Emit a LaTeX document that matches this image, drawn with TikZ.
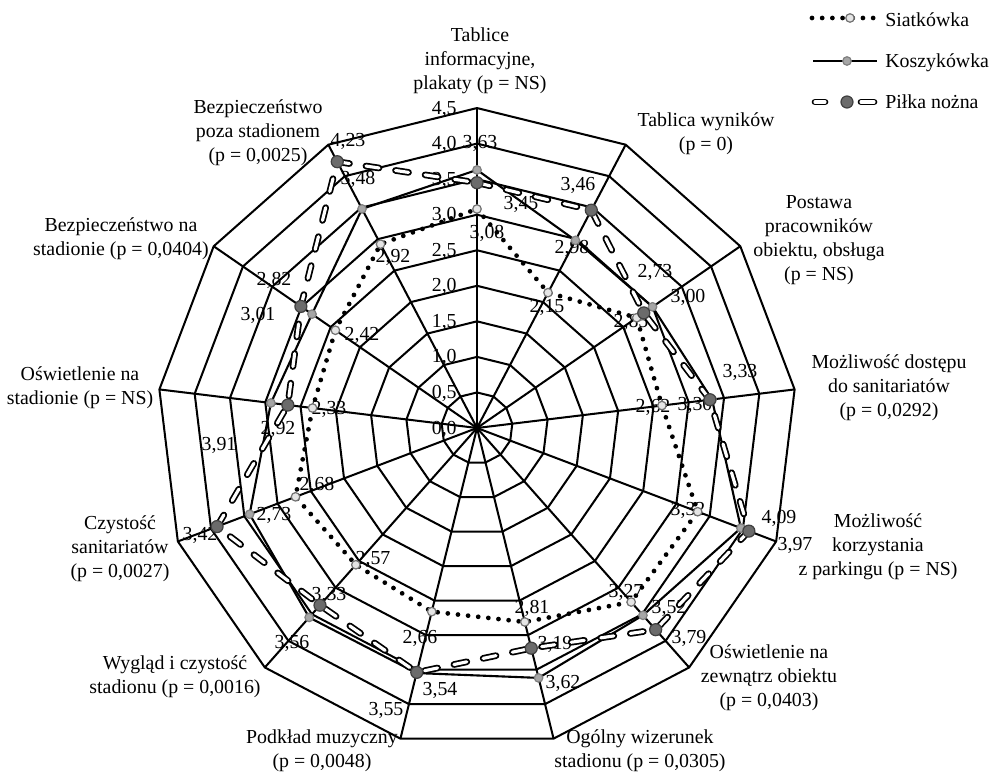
\documentclass[tikz,border=0pt]{standalone}
\usepackage{fontspec}
\setmainfont{Liberation Serif}
\usepackage{xcolor}
\usetikzlibrary{calc,
	positioning}

\tikzset{
	gridline/.style={line width=1.15pt},
	txt/.style={font=\fontsize{11.3}{13.7}\selectfont, inner sep=0pt},
	cat/.style={txt, align=center},
	siat/.style={line width=2.7pt, dash pattern=on 0pt off 5.8pt, line cap=round},
	kosz/.style={line width=1.2pt},
	pilka/.style={line width=1pt, double=white, double distance=1.8pt,
		dash pattern=on 7.5pt off 9.5pt, line cap=round},
	markV/.style={fill=black!10, draw=black!55, line width=0.7pt},
	markK/.style={fill=black!35, draw=black!50, line width=0.7pt},
	markP/.style={fill=black!58, draw=black!75, line width=0.7pt}
}

\begin{document}
\begin{tikzpicture}[x=0.02cm, y=-0.02cm]
            \useasboundingbox (0,0) rectangle (995,773);
            \begin{scope}[shift={(477,428)}]
                \coordinate (c) at (0,0);
                \foreach \i in {1,...,9}
                    \draw[gridline] ({-90}:{\i*35.55}) \foreach \k in {1,...,12} { -- ({\k*360/13-90}:{\i*35.55}) } -- cycle;
                \foreach \k in {0,...,12}
                    \draw[gridline] (c) -- ({\k*360/13-90}:320) coordinate (e\k);
                \foreach \i/\t in {0/{0,0},1/{0,5},2/{1,0},3/{1,5},4/{2,0},5/{2,5},6/{3,0},7/{3,5},8/{4,0},9/{4,5}}
                    \node[txt, anchor=east] (t\i) at (-20, {-\i*35.55+1}) {\t};
                \foreach \k/\v/\b/\f in {0/3.08/3.63/3.45, 1/2.15/2.98/3.46, 2/2.73/3.00/2.85,
                        3/2.62/3.33/3.30, 4/3.32/3.97/4.09, 5/3.27/3.52/3.79, 6/2.81/3.62/3.19,
                        7/2.66/3.55/3.54, 8/2.57/3.56/3.33, 9/2.73/3.42/3.91, 10/2.33/2.92/2.68,
                        11/2.42/2.82/3.01, 12/2.92/3.48/4.23} {
                    \coordinate (V\k) at ({\k*360/13-90}:{\v*71.1});
                    \coordinate (K\k) at ({\k*360/13-90}:{\b*71.1});
                    \coordinate (P\k) at ({\k*360/13-90}:{\f*71.1});
                }
            \end{scope}

            \foreach \n/\x/\y/\t in {a0/480/143/{3,63}, a1/578/185/{3,46}, a2/521/204/{3,45},
                    a3/487/233/{3,08}, a4/572/248/{2,98}, a5/547/307/{2,15}, a6/655/272/{2,73},
                    a7/688/297/{3,00}, a8/631/322/{2,85}, a9/740/372/{3,33}, a10/695/405/{3,30},
                    a11/653/407/{2,62}, a12/779/518/{4,09}, a13/795/545/{3,97}, a14/688/510/{3,32},
                    a15/626/592/{3,27}, a16/669/608/{3,52}, a17/689/638/{3,79}, a18/532/608/{2,81},
                    a19/555/644/{3,19}, a20/563/683/{3,62}, a21/420/638/{2,66}, a22/440/690/{3,54},
                    a23/386/710/{3,55}, a24/292/643/{3,56}, a25/329/595/{3,33}, a26/373/559/{2,57},
                    a27/274/515/{2,73}, a28/317/485/{2,68}, a29/200/535/{3,42}, a30/219/445/{3,91},
                    a31/278/429/{2,92}, a32/329/409/{2,33}, a33/362/335/{2,42}, a34/274/280/{2,82},
                    a35/258/315/{3,01}, a36/393/257/{2,92}, a37/358/179/{3,48}, a38/348/141/{4,23}}
                \node[txt] (\n) at (\x,\y) {\t};

            \node[cat] (cat0) at (480,61) {Tablice\\informacyjne,\\plakaty (p = NS)};
            \node[cat] (cat1) at (706,134) {Tablica wyników\\(p = 0)};
            \node[cat] (cat2) at (819,240) {Postawa\\pracowników\\obiektu, obsługa\\(p = NS)};
            \node[cat] (cat3) at (889,388) {Możliwość dostępu\\do sanitariatów\\(p = 0,0292)};
            \node[cat] (cat4) at (878,547) {Możliwość\\korzystania\\z parkingu (p = NS)};
            \node[cat] (cat5) at (769,678) {Oświetlenie na\\zewnątrz obiektu\\(p = 0,0403)};
            \node[cat] (cat6) at (640,751) {Ogólny wizerunek\\stadionu (p = 0,0305)};
            \node[cat] (cat7) at (322,751) {Podkład muzyczny\\(p = 0,0048)};
            \node[cat] (cat8) at (175,677) {Wygląd i czystość\\stadionu (p = 0,0016)};
            \node[cat] (cat9) at (120,549) {Czystość\\sanitariatów\\(p = 0,0027)};
            \node[cat] (cat10) at (80,388) {Oświetlenie na\\stadionie (p = NS)};
            \node[cat] (cat11) at (121,239) {Bezpieczeństwo na\\stadionie (p = 0,0404)};
            \node[cat] (cat12) at (258,133) {Bezpieczeństwo\\poza stadionem\\(p = 0,0025)};

            \draw[siat] (V0) \foreach \k in {1,...,12} { -- (V\k) } -- cycle;
            \foreach \k in {0,...,12}
                \filldraw[markV] (V\k) circle (0.085cm);
            \draw[kosz] (K0) \foreach \k in {1,...,12} { -- (K\k) } -- cycle;
            \foreach \k in {0,...,12}
                \filldraw[markK] (K\k) circle (0.085cm);
            \draw[pilka] (P0) \foreach \k in {1,...,12} { -- (P\k) } -- cycle;
            \foreach \k in {0,...,12}
                \filldraw[markP] (P\k) circle (0.12cm);

            \node[txt, anchor=base west] (legV) at (885,27) {Siatkówka};
            \node[txt, anchor=base west] (legK) at (885,68) {Koszykówka};
            \node[txt, anchor=base west] (legP) at (885,109) {Piłka nożna};
            \coordinate (lv1) at (812,18);
            \coordinate (lv2) at (874,18);
            \coordinate (lk1) at (813,61);
            \coordinate (lk2) at (877,61);
            \coordinate (lp1) at (815,102);
            \coordinate (lp2) at (825,102);
            \coordinate (lp3) at (861,102);
            \coordinate (lp4) at (874,102);
            \draw[siat] (lv1) -- (lv2);
            \filldraw[markV] (850,18) circle (0.085cm);
            \draw[kosz] (lk1) -- (lk2);
            \filldraw[markK] (847,61) circle (0.085cm);
            \draw[pilka, solid] (lp1) -- (lp2);
            \draw[pilka, solid] (lp3) -- (lp4);
            \filldraw[markP] (847,102) circle (0.12cm);
\end{tikzpicture}
\end{document}
